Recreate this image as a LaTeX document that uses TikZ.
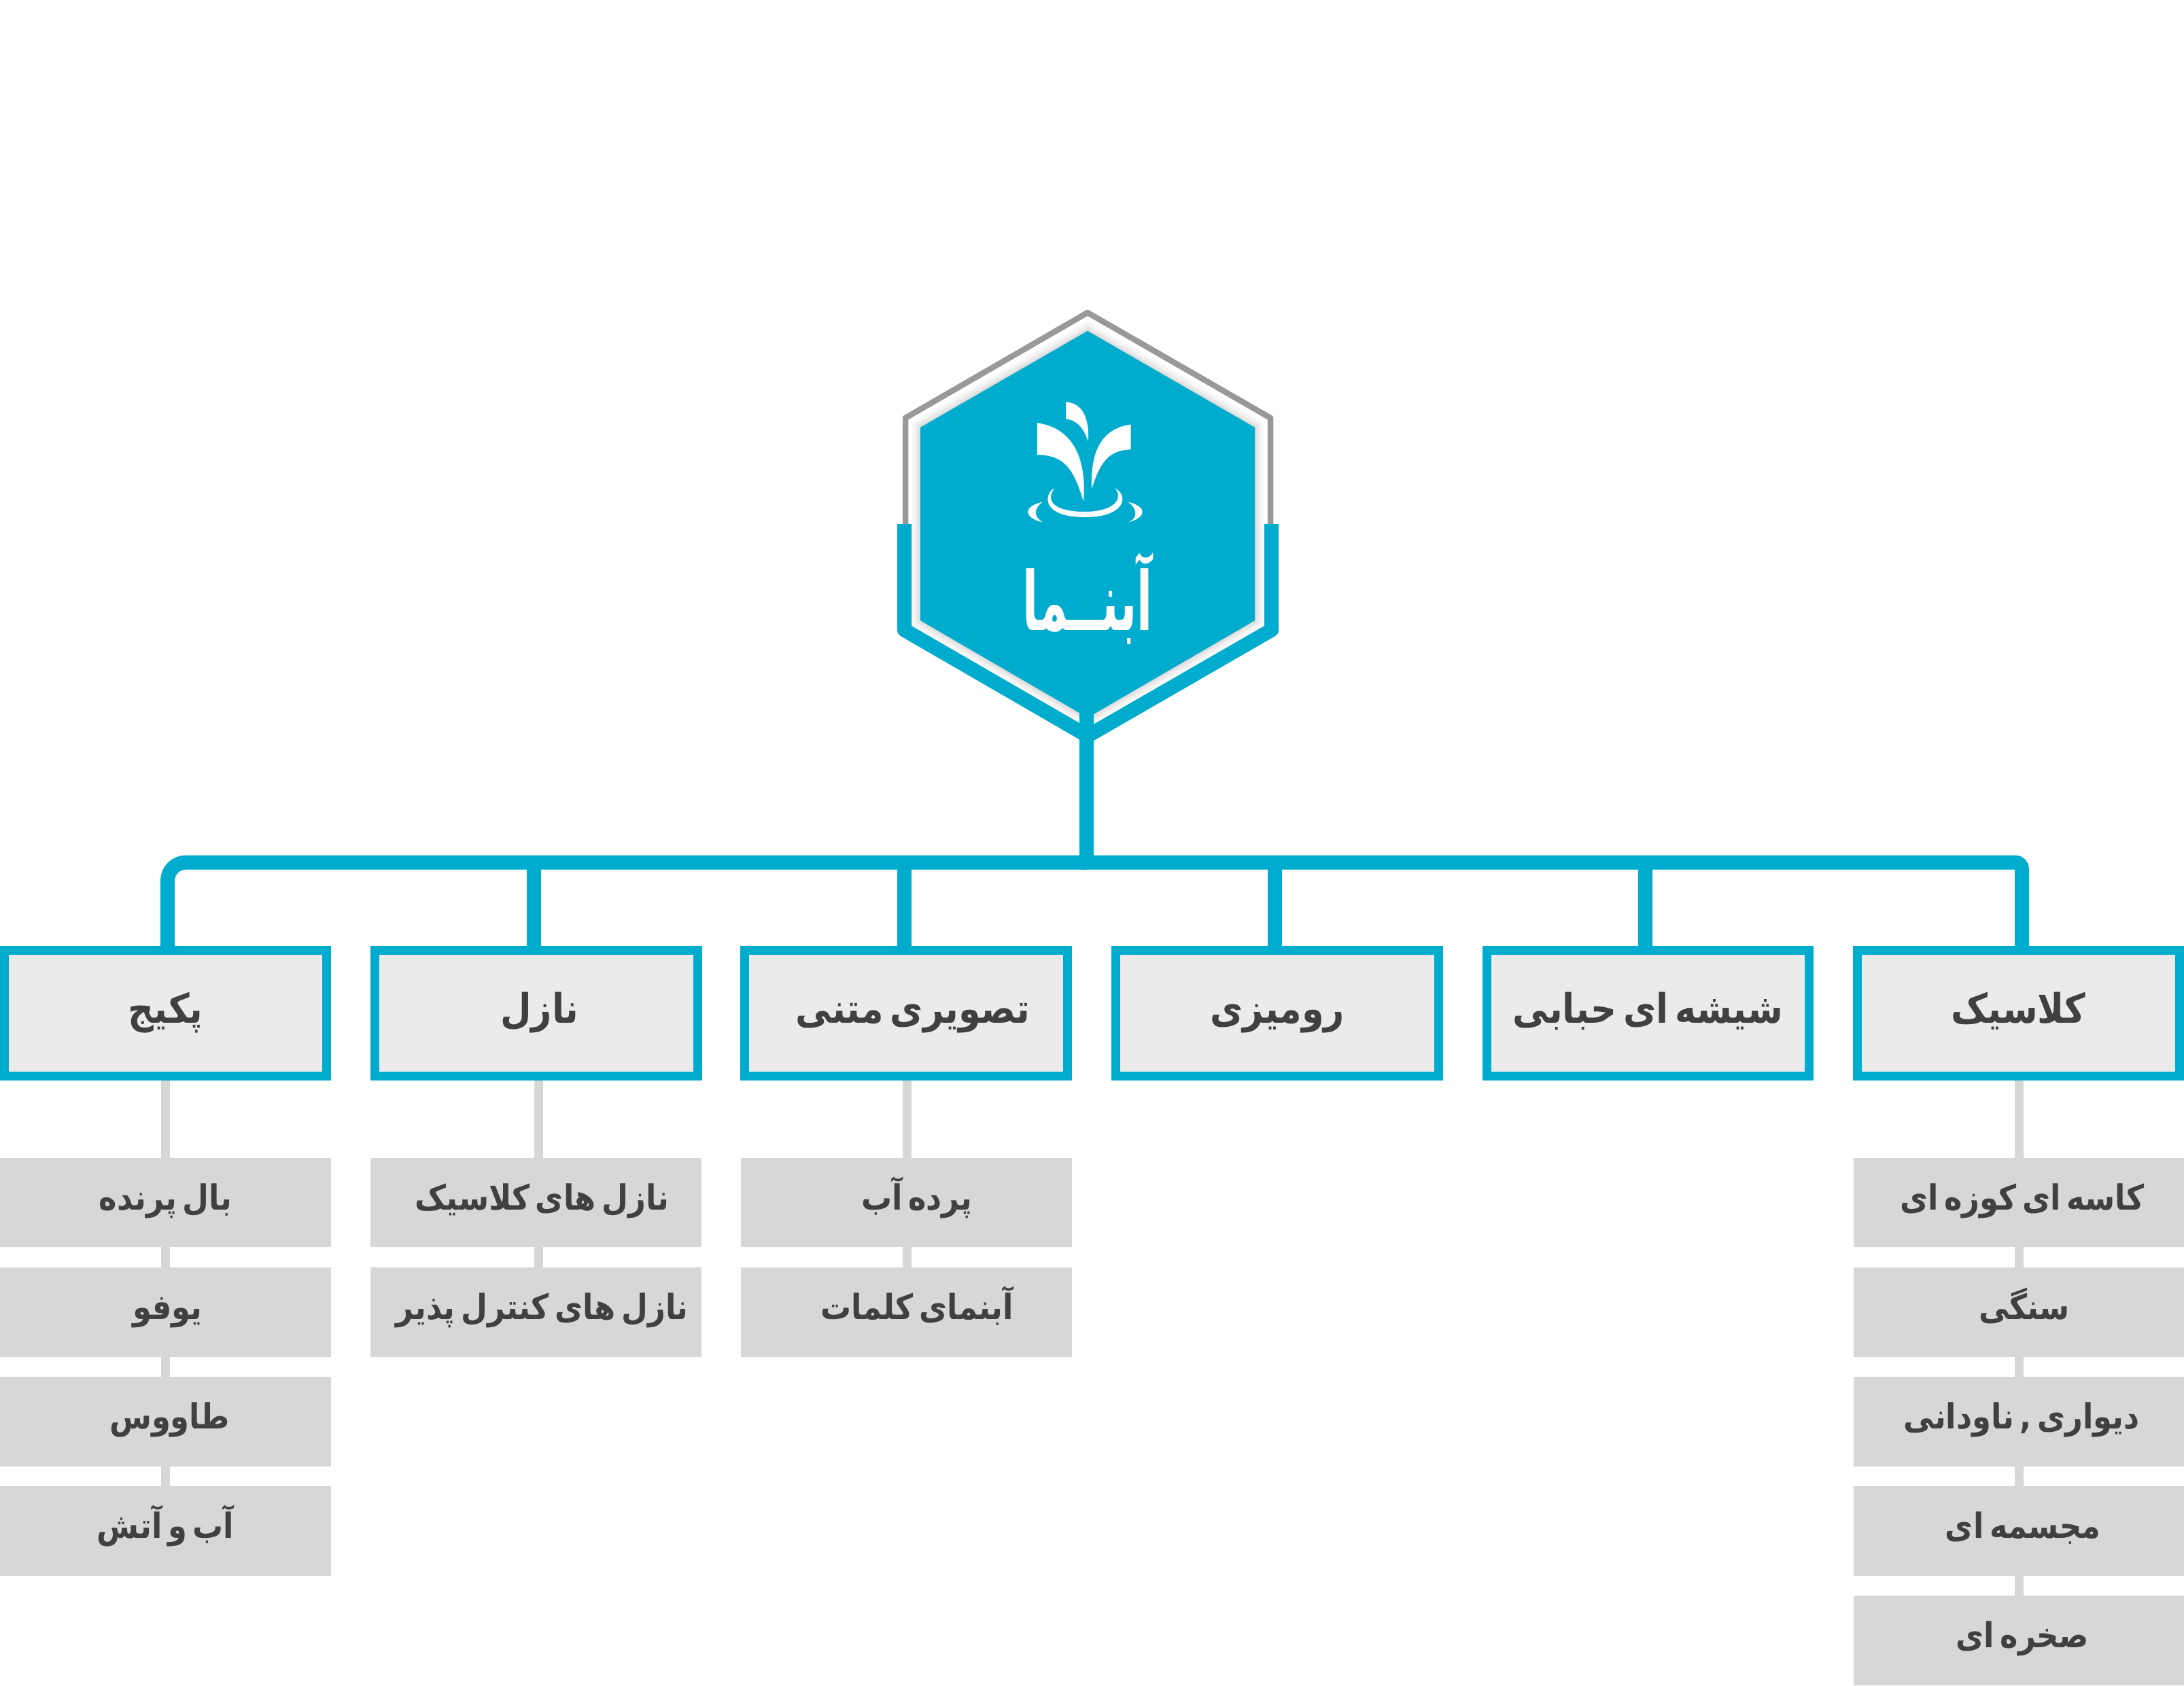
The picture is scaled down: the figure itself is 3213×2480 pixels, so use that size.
\documentclass[tikz,border=0pt]{standalone}
\usepackage{fontspec}
\TeXXeTstate=1
\newfontfamily\arabicfont[Script=Arabic,FakeStretch=0.88,WordSpace=0.55]{DejaVu Sans}
\newfontfamily\logofont[Script=Arabic]{DejaVu Sans}
\definecolor{abblue}{HTML}{00ACCE}
\definecolor{abgray}{HTML}{999999}
\definecolor{abbox}{HTML}{EBEBEB}
\definecolor{absub}{HTML}{D7D7D7}
\definecolor{abtext}{HTML}{404040}
\newcommand{\fatext}[2][0cm]{\hspace*{#1}\arabicfont\bfseries\beginR #2\endR}
\tikzset{
  catbox/.style={draw=abblue,fill=abbox,line width=13*0.2845pt,minimum width=4.74cm,minimum height=1.85cm,inner sep=0pt,text=abtext,text height=14pt,text depth=6pt,font=\fontsize{17}{20}\selectfont},
  subbox/.style={fill=absub,minimum width=4.87cm,minimum height=1.315cm,inner sep=0pt,outer sep=0pt,text=abtext,text height=12pt,text depth=6pt,font=\fontsize{14.5}{18}\selectfont},
  busline/.style={draw=abblue,line width=21*0.2845pt},
  subline/.style={draw=absub,line width=13*0.2845pt},
  logoshape/.style={fill=white,draw=none}
}
\begin{document}
\begin{tikzpicture}[x=0.01cm,y=-0.01cm]
\useasboundingbox (0,0) rectangle (3213,2480);
\fill[white] (0,0) rectangle (3213,2480);
% hexagon frame
\draw[abgray,line width=8.5*0.2845pt,line join=round] (1332,771) -- (1332,615) -- (1600,460) -- (1869,615) -- (1869,771);
\foreach \w/\c in {26/5,20/9,14/15,8/22,3/30}{
  \draw[gray!\c!white,line width=\w*0.2845pt,line join=miter] (1354,629) -- (1600,487) -- (1846,629) -- (1846,913) -- (1600,1056) -- (1354,913) -- cycle;
}
\fill[abblue] (1354,629) -- (1600,487) -- (1846,629) -- (1846,913) -- (1600,1056) -- (1354,913) -- cycle;
\draw[busline,line join=round] (1330.5,771) -- (1330.5,927) -- (1600,1083) -- (1870.5,927) -- (1870.5,771);
% logo
\begin{scope}[shift={(1280,430)},x=0.0040816cm,y=-0.004464cm]
\fill[logoshape] (603,430) .. controls (760,450) and (780,590) .. (770,688) .. controls (735,580) and (700,535) .. (603,535) -- cycle;
\fill[logoshape] (941,435) .. controls (830,450) and (795,530) .. (800,647) .. controls (830,560) and (860,520) .. (941,517) -- cycle;
\fill[logoshape] (707,361) .. controls (770,365) and (792,420) .. (787,490) .. controls (770,445) and (745,420) .. (707,417) -- cycle;
\fill[logoshape] (665,645) .. controls (625,665) and (620,740) .. (775,740) .. controls (920,740) and (935,670) .. (885,645) .. controls (915,680) and (880,722) .. (775,722) .. controls (670,722) and (630,690) .. (665,645) -- cycle;
\fill[logoshape] (622,690) .. controls (552,705) and (552,740) .. (622,757) .. controls (592,738) and (588,715) .. (622,690) -- cycle;
\fill[logoshape] (932,690) .. controls (1000,705) and (1000,740) .. (932,757) .. controls (965,745) and (968,715) .. (932,690) -- cycle;
\end{scope}
\node[text=white,inner sep=0pt,xscale=0.56,font=\fontsize{34}{40}\selectfont] (hub) at (1600,881) {\logofont\bfseries\beginR آبنــما\endR};
% categories
\node[catbox] (b1) at (243.5,1491) {\fatext{پکیج}};
\node[catbox] (b2) at (789,1491) {\fatext[0.1cm]{نازل}};
\node[catbox] (b3) at (1333,1491) {\fatext[0.2cm]{تصویری متنی}};
\node[catbox] (b4) at (1879,1491) {\fatext{رومیزی}};
\node[catbox] (b5) at (2424.5,1491) {\fatext{شیشه ای حبابی}};
\node[catbox] (b6) at (2969.5,1491) {\fatext{کلاسیک}};
% sub items
\node[subbox] (s11) at (243.5,1769.5) {\fatext{بال پرنده}};
\node[subbox] (s12) at (243.5,1931) {\fatext[0.06cm]{یوفو}};
\node[subbox] (s13) at (243.5,2092) {\fatext[0.12cm]{طاووس}};
\node[subbox] (s14) at (243.5,2253) {\fatext{آب و آتش}};
\node[subbox] (s21) at (788.5,1769.5) {\fatext[0.18cm]{نازل های کلاسیک}};
\node[subbox] (s22) at (788.5,1931) {\fatext[0.18cm]{نازل های کنترل پذیر}};
\node[subbox] (s31) at (1333.5,1769.5) {\fatext[0.31cm]{پرده آب}};
\node[subbox] (s32) at (1333.5,1931) {\fatext[0.31cm]{آبنمای کلمات}};
\node[subbox] (s61) at (2971,1769.5) {\fatext[0.08cm]{کاسه ای کوزه ای}};
\node[subbox] (s62) at (2971,1931) {\fatext[0.14cm]{سنگی}};
\node[subbox] (s63) at (2971,2092) {\fatext[0.06cm]{دیواری , ناودانی}};
\node[subbox] (s64) at (2971,2253) {\fatext[0.1cm]{مجسمه ای}};
\node[subbox] (s65) at (2971,2414) {\fatext[0.08cm]{صخره ای}};
% main connectors
\coordinate (busL) at (246.5,1269);
\coordinate (busR) at (2974.5,1269);
\coordinate (bus2) at (785.5,1269);
\coordinate (bus3) at (1330.5,1269);
\coordinate (bus4) at (1875.5,1269);
\coordinate (bus5) at (2420.5,1269);
\coordinate (hubfoot) at (1598.5,1047);
\draw[busline] (hubfoot) -- (hubfoot |- busL);
\draw[busline,rounded corners=27*0.2845pt] (b1.north -| busL) -- (busL) -- (1600,1269);
\draw[busline,rounded corners=10*0.2845pt] (1590,1269) -- (busR) -- (b6.north -| busR);
\foreach \i in {2,3,4,5}{
  \draw[busline] (bus\i) -- (b\i.north -| bus\i);
}
% sub connectors
\coordinate (lc1) at (243.5,1700);
\coordinate (lc2) at (792,1700);
\coordinate (lc3) at (1334,1700);
\coordinate (lc6) at (2970.5,1700);
\draw[subline] (b1.south -| lc1) -- (s11.north -| lc1);
\draw[subline] (s11.south -| lc1) -- (s12.north -| lc1);
\draw[subline] (s12.south -| lc1) -- (s13.north -| lc1);
\draw[subline] (s13.south -| lc1) -- (s14.north -| lc1);
\draw[subline] (b2.south -| lc2) -- (s21.north -| lc2);
\draw[subline] (s21.south -| lc2) -- (s22.north -| lc2);
\draw[subline] (b3.south -| lc3) -- (s31.north -| lc3);
\draw[subline] (s31.south -| lc3) -- (s32.north -| lc3);
\draw[subline] (b6.south -| lc6) -- (s61.north -| lc6);
\draw[subline] (s61.south -| lc6) -- (s62.north -| lc6);
\draw[subline] (s62.south -| lc6) -- (s63.north -| lc6);
\draw[subline] (s63.south -| lc6) -- (s64.north -| lc6);
\draw[subline] (s64.south -| lc6) -- (s65.north -| lc6);
\end{tikzpicture}
\end{document}
